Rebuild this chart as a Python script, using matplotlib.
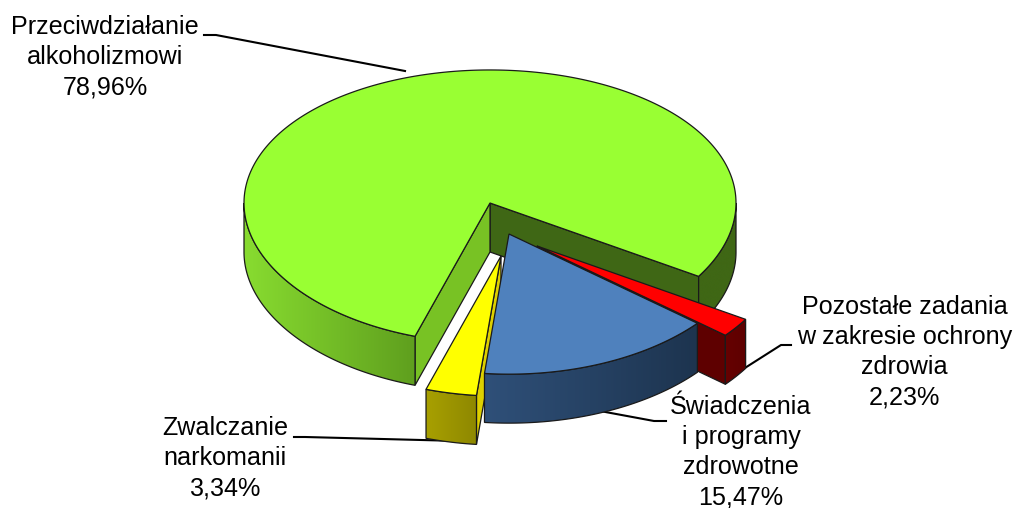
import numpy as np
import matplotlib
matplotlib.use("Agg")
import matplotlib.pyplot as plt
from matplotlib.patches import Polygon
from matplotlib.colors import LinearSegmentedColormap

names = ["Przeciwdziałanie\nalkoholizmowi", "Pozostałe zadania\nw zakresie ochrony\nzdrowia",
         "Świadczenia\ni programy\nzdrowotne", "Zwalczanie\nnarkomanii"]
values = [78.96, 2.23, 15.47, 3.34]
labels = ["78,96%", "2,23%", "15,47%", "3,34%"]

CX, CY, RX, RY, K, H = 490, 203, 246, 136.5, 0.026, 49
START = -32.0
offsets = [(0, 0), (47, 43), (19, 31), (11, 53)]
top_col = ["#99FF33", "#FF0000", "#4F81BD", "#FFFF00"]
wall_col = [("#88DC30", "#5F9F1E"), ("#660000", "#5E0000"), ("#2F5079", "#1D344F"), ("#A8A000", "#8E8800")]
cut_a = ["#78C224", "#5E0000", "#24405F", "#DDD000"]
cut_b = ["#3F6715", "#5C0000", "#24405F", "#DDD000"]
LW = 0.9
EDGE = "#1a1a1a"

plt.rcParams["font.family"] = ["Liberation Sans", "DejaVu Sans"]
fig = plt.figure(figsize=(10.14, 5.08), dpi=100)
ax = fig.add_axes([0, 0, 1, 1])
ax.set_xlim(0, 1014)
ax.set_ylim(508, 0)
ax.axis("off")


def proj(t_deg, off):
    t = np.radians(t_deg)
    s = np.sin(t)
    return CX + off[0] + RX * np.cos(t), CY + off[1] - RY * s / (1 + K * s)


def wall(t0, t1, off, c0, c1, z):
    ts = np.linspace(t0, t1, max(8, int(abs(t1 - t0) * 4)))
    x, y = proj(ts, off)
    pts = list(zip(x, y)) + list(zip(x[::-1], y[::-1] + H))
    clip = Polygon(pts, closed=True, fc="none", ec=EDGE, lw=LW, zorder=z + 0.1)
    ax.add_patch(clip)
    cmap = LinearSegmentedColormap.from_list("w", [c0, c1])
    grad = np.linspace(0, 1, 256).reshape(1, -1)
    extent = (x.min(), x.max(), (y + H).max(), y.min())
    im = ax.imshow(grad, cmap=cmap, extent=extent, aspect="auto", zorder=z, interpolation="bilinear")
    im.set_clip_path(clip)


def cut(t, off, col, z):
    px, py = proj(t, off)
    x0, y0 = CX + off[0], CY + off[1]
    ax.add_patch(Polygon([(x0, y0), (px, py), (px, py + H), (x0, y0 + H)], closed=True,
                         fc=col, ec=EDGE, lw=LW, zorder=z))


def top(t0, t1, off, col, z):
    ts = np.linspace(t0, t1, 300)
    x, y = proj(ts, off)
    pts = [(CX + off[0], CY + off[1])] + list(zip(x, y))
    ax.add_patch(Polygon(pts, closed=True, fc=col, ec=EDGE, lw=LW, zorder=z))


# angular extents come from the values
total = sum(values)
spans = [v / total * 360 for v in values]
g0, g1 = START, START + spans[0]
r0, r1 = START - spans[1], START
b0, b1 = r0 - spans[2], r0
y0, y1 = b0 - spans[3], b0

# green
cut(g0, offsets[0], cut_b[0], 1)
cut(g1, offsets[0], cut_a[0], 1)
wall(g0, 0, offsets[0], "#3F6715", "#3F6715", 1.5)
wall(180, g1, offsets[0], *wall_col[0], 1.5)
top(g0, g1, offsets[0], top_col[0], 2)

# red
cut(r0, offsets[1], cut_a[1], 3)
wall(r0, r1, offsets[1], *wall_col[1], 3.5)
top(r0, r1, offsets[1], top_col[1], 4)

# yellow
cut(y1, offsets[3], cut_a[3], 5)
wall(y0, y1, offsets[3], *wall_col[3], 5.5)
top(y0, y1, offsets[3], top_col[3], 6)

# blue
wall(b0, b1, offsets[2], *wall_col[2], 7.5)
top(b0, b1, offsets[2], top_col[2], 8)

ax.set_xlim(0, 1014)
ax.set_ylim(508, 0)

# labels
FS = 18.1
for nm, lb, (tx, ty) in zip(names, labels, [(105, 57), (904.5, 352), (741, 452), (225, 458)]):
    ax.text(tx, ty, nm + "\n" + lb, ha="center", va="center", fontsize=FS, color="black",
            linespacing=1.32, zorder=20)

# leader lines
leaders = [
    ([204, 216, 405], [35, 35, 71]),
    ([737, 781, 791], [373, 345, 345]),
    ([600, 654, 666], [411, 421, 421]),
    ([294, 305, 460], [437, 437, 441]),
]
for lx, ly in leaders:
    ax.plot(lx, ly, color="black", lw=1.5, zorder=0.5, solid_joinstyle="round")

fig.savefig("out.png", dpi=100, facecolor="white")
